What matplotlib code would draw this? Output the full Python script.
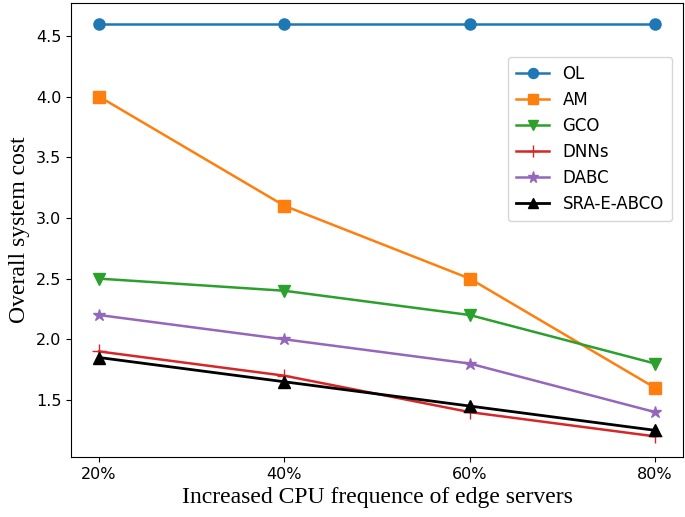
import matplotlib
matplotlib.use("Agg")
import matplotlib.pyplot as plt

x_labels = ["20%", "40%", "60%", "80%"]
ol = [4.6, 4.6, 4.6, 4.6]
am = [4.0, 3.1, 2.5, 1.6]
gco = [2.5, 2.4, 2.2, 1.8]
dnns = [1.9, 1.7, 1.4, 1.2]
dabc = [2.2, 2.0, 1.8, 1.4]
sra = [1.85, 1.65, 1.45, 1.25]

x = list(range(len(x_labels)))

fig = plt.figure(figsize=(6.85, 5.17), dpi=100)
ax = fig.add_axes([0.104, 0.116, 0.893, 0.878])

ax.plot(x, ol, marker='o', markersize=8, lw=1.8, label="OL")
ax.plot(x, am, marker='s', markersize=8, lw=1.8, label="AM")
ax.plot(x, gco, marker='v', markersize=8, lw=1.8, label="GCO")
ax.plot(x, dnns, marker='+', markersize=10, lw=1.8, label="DNNs")
ax.plot(x, dabc, marker='*', markersize=9, lw=1.8, label="DABC")
ax.plot(x, sra, marker='^', markersize=8, lw=2.0, color='black', label="SRA-E-ABCO")

ax.set_xticks(x)
ax.set_xticklabels(x_labels)
ax.set_yticks([1.5, 2.0, 2.5, 3.0, 3.5, 4.0, 4.5])
ax.tick_params(labelsize=11.5)
ax.set_xlabel("Increased CPU frequence of edge servers", family="Liberation Serif", fontsize=17)
ax.set_ylabel("Overall system cost", family="Liberation Serif", fontsize=17)
ax.legend(loc="upper right", bbox_to_anchor=(0.996, 0.90), fontsize=12,
          labelspacing=0.48, borderpad=0.5, markerscale=0.9)

fig.savefig("out.png", dpi=100)
